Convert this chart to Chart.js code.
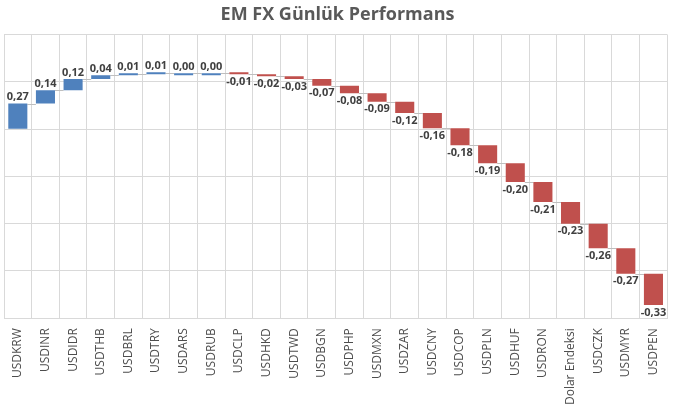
<!DOCTYPE html>
<html>
<head>
<meta charset="utf-8">
<script src="https://cdn.jsdelivr.net/npm/chart.js@4.4.1/dist/chart.umd.min.js"></script>
<style>
  html, body { margin: 0; padding: 0; background: #fff; }
  #wrap { width: 678px; height: 414px; }
</style>
</head>
<body>
<div id="wrap"><canvas id="chart"></canvas></div>
<script>
const categories = [
  "USDKRW", "USDINR", "USDIDR", "USDTHB", "USDBRL", "USDTRY", "USDARS", "USDRUB",
  "USDCLP", "USDHKD", "USDTWD", "USDBGN", "USDPHP", "USDMXN", "USDZAR", "USDCNY",
  "USDCOP", "USDPLN", "USDHUF", "USDRON", "Dolar Endeksi", "USDCZK", "USDMYR", "USDPEN"
]
const changes = [
  0.27, 0.14, 0.12, 0.04, 0.01, 0.01, 0.00, 0.00,
  -0.01, -0.02, -0.03, -0.07, -0.08, -0.09, -0.12, -0.16,
  -0.18, -0.19, -0.20, -0.21, -0.23, -0.26, -0.27, -0.33
]

// waterfall: each bar floats from the running total
const floating = []
const ends = []
let total = 0
changes.forEach(v => {
  const start = total
  total = Math.round((total + v) * 100) / 100
  floating.push([start, total])
  ends.push(total)
})

const fmt = v => v.toFixed(2).replace(".", ",")

const waterfallExtras = {
  id: "waterfallExtras",
  beforeDatasetsDraw(chart) {
    const ctx = chart.ctx
    const meta = chart.getDatasetMeta(0)
    const y = chart.scales.y
    ctx.save()
    ctx.strokeStyle = "#BFBFBF"
    ctx.lineWidth = 1
    for (let i = 0; i < meta.data.length - 1; i++) {
      const a = meta.data[i], b = meta.data[i + 1]
      const py = Math.round(y.getPixelForValue(ends[i])) + 0.5
      ctx.beginPath()
      ctx.moveTo(a.x + a.width / 2, py)
      ctx.lineTo(b.x - b.width / 2, py)
      ctx.stroke()
    }
    ctx.restore()
  },
  afterDatasetsDraw(chart) {
    const ctx = chart.ctx
    const meta = chart.getDatasetMeta(0)
    ctx.save()
    ctx.font = "bold 11px 'Open Sans'"
    ctx.fillStyle = "#404040"
    ctx.textAlign = "center"
    meta.data.forEach((bar, i) => {
      const v = changes[i]
      const top = Math.min(bar.y, bar.base)
      const bottom = Math.max(bar.y, bar.base)
      if (v >= 0) {
        ctx.textBaseline = "bottom"
        ctx.fillText(fmt(v), bar.x, top - 1)
      } else {
        ctx.textBaseline = "top"
        ctx.fillText(fmt(v), bar.x, bottom + 2)
      }
    })
    ctx.restore()
  }
}

new Chart(document.getElementById("chart"), {
  type: "bar",
  data: {
    labels: categories,
    datasets: [{
      data: floating,
      backgroundColor: changes.map(v => v >= 0 ? "#4F81BD" : "#C0504D"),
      barPercentage: 0.69,
      categoryPercentage: 1,
      minBarLength: 2
    }]
  },
  options: {
    responsive: true,
    maintainAspectRatio: false,
    animation: false,
    layout: { padding: { left: 4, right: 7, top: 0, bottom: -1 } },
    plugins: {
      legend: { display: false },
      tooltip: { enabled: false },
      title: {
        display: true,
        text: "EM FX Günlük Performans",
        color: "#595959",
        font: { family: "'Open Sans'", size: 18, weight: "bold" },
        padding: { top: 4, bottom: 9 }
      }
    },
    scales: {
      x: {
        grid: { offset: true, color: "#D9D9D9", drawTicks: false },
        border: { color: "#D9D9D9" },
        ticks: {
          color: "#4D4D4D",
          font: { family: "'Open Sans'", size: 12 },
          minRotation: 90,
          maxRotation: 90,
          padding: 10,
          autoSkip: false
        }
      },
      y: {
        min: -2,
        max: 1,
        ticks: { display: false, stepSize: 0.5 },
        grid: { color: "#D9D9D9", drawTicks: false },
        border: { display: false }
      }
    }
  },
  plugins: [waterfallExtras]
})
</script>
</body>
</html>
